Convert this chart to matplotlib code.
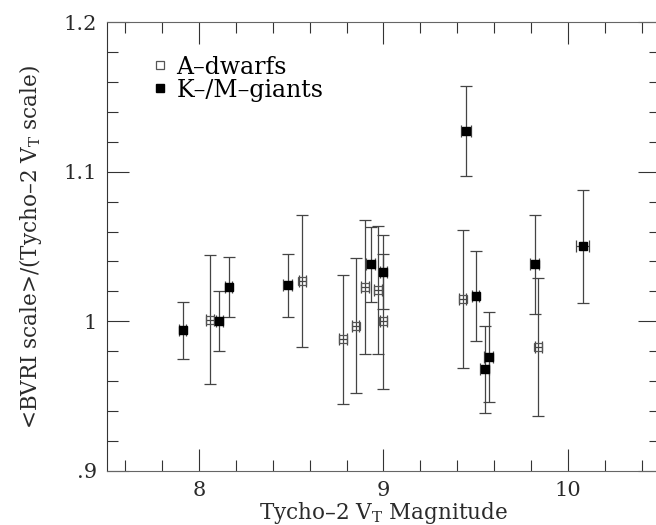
import matplotlib
matplotlib.use("Agg")
import matplotlib.pyplot as plt
from matplotlib.ticker import MultipleLocator, FixedLocator, FixedFormatter
from matplotlib.lines import Line2D

plt.rcParams["font.family"] = "DejaVu Serif"
plt.rcParams["mathtext.fontset"] = "dejavuserif"

# ---- data: K/M giants (filled) ----
giants_mag = [7.91, 8.11, 8.16, 8.48, 8.93, 9.00, 9.45, 9.50, 9.55, 9.57, 9.82, 10.08]
giants_ratio = [0.994, 1.000, 1.023, 1.024, 1.038, 1.033, 1.127, 1.017, 0.968, 0.976, 1.038, 1.050]
giants_err = [0.019, 0.020, 0.020, 0.021, 0.025, 0.025, 0.030, 0.030, 0.029, 0.030, 0.033, 0.038]
giants_magerr = [0.02, 0.02, 0.02, 0.025, 0.025, 0.02, 0.027, 0.02, 0.025, 0.025, 0.025, 0.035]

# ---- data: A dwarfs (open) ----
dwarfs_mag = [8.06, 8.56, 8.78, 8.85, 8.90, 8.97, 9.00, 9.43, 9.84]
dwarfs_ratio = [1.001, 1.027, 0.988, 0.997, 1.023, 1.021, 1.000, 1.015, 0.983]
dwarfs_err = [0.043, 0.044, 0.043, 0.045, 0.045, 0.043, 0.045, 0.046, 0.046]
dwarfs_magerr = [0.02, 0.02, 0.02, 0.02, 0.02, 0.02, 0.02, 0.02, 0.02]

y_ticks = [0.9, 1.0, 1.1, 1.2]
y_ticklabels = [".9", "1", "1.1", "1.2"]

fig = plt.figure(figsize=(6.56, 5.25), dpi=100)
ax = fig.add_axes([0.163, 0.103, 0.843, 0.855])

bar_col = "#444444"
txt_col = "#2a2a2a"
ax.errorbar(dwarfs_mag, dwarfs_ratio, yerr=dwarfs_err, xerr=dwarfs_magerr,
            fmt="s", ms=5.5, mfc="none", mec="#555555", mew=0.9,
            ecolor=bar_col, elinewidth=0.9, capsize=4.3, capthick=0.9)
ax.errorbar(giants_mag, giants_ratio, yerr=giants_err, xerr=giants_magerr,
            fmt="s", ms=6, mfc="black", mec="black",
            ecolor=bar_col, elinewidth=0.9, capsize=4.3, capthick=0.9)

ax.set_xlim(7.5, 10.5)
ax.set_ylim(0.9, 1.2)

ax.xaxis.set_major_locator(MultipleLocator(1))
ax.xaxis.set_minor_locator(MultipleLocator(0.2))
ax.yaxis.set_major_locator(FixedLocator(y_ticks))
ax.yaxis.set_major_formatter(FixedFormatter(y_ticklabels))
ax.yaxis.set_minor_locator(MultipleLocator(0.02))

ax.tick_params(which="both", direction="in", top=True, right=True,
               color="#333333", width=0.8, labelsize=15, labelcolor=txt_col)
ax.tick_params(which="major", length=15.5, pad=7)
ax.tick_params(which="minor", length=8)

for side in ["top", "bottom"]:
    ax.spines[side].set_linestyle((0, (3, 1)))
    ax.spines[side].set_color("#666666")
for side in ["left", "right"]:
    ax.spines[side].set_color("#333333")
    ax.spines[side].set_linewidth(0.8)

ax.set_xlabel(r"Tycho–2 V$_\mathrm{T}$ Magnitude", fontsize=15.5, color=txt_col, labelpad=0)
ax.set_ylabel(r"<BVRI scale>/(Tycho–2 V$_\mathrm{T}$ scale)", fontsize=15.5,
              color=txt_col, labelpad=14)

handles = [
    Line2D([], [], ls="none", marker="s", ms=5.5, mfc="none", mec="#555555", mew=0.9),
    Line2D([], [], ls="none", marker="s", ms=6, mfc="black", mec="black"),
]
ax.legend(handles, ["A–dwarfs", "K–/M–giants"], loc="upper left",
          bbox_to_anchor=(0.055, 0.962), frameon=False, fontsize=17,
          handlelength=0.5, handletextpad=0.45, labelspacing=0.0,
          borderpad=0.2)

fig.savefig("out.png", dpi=100)
